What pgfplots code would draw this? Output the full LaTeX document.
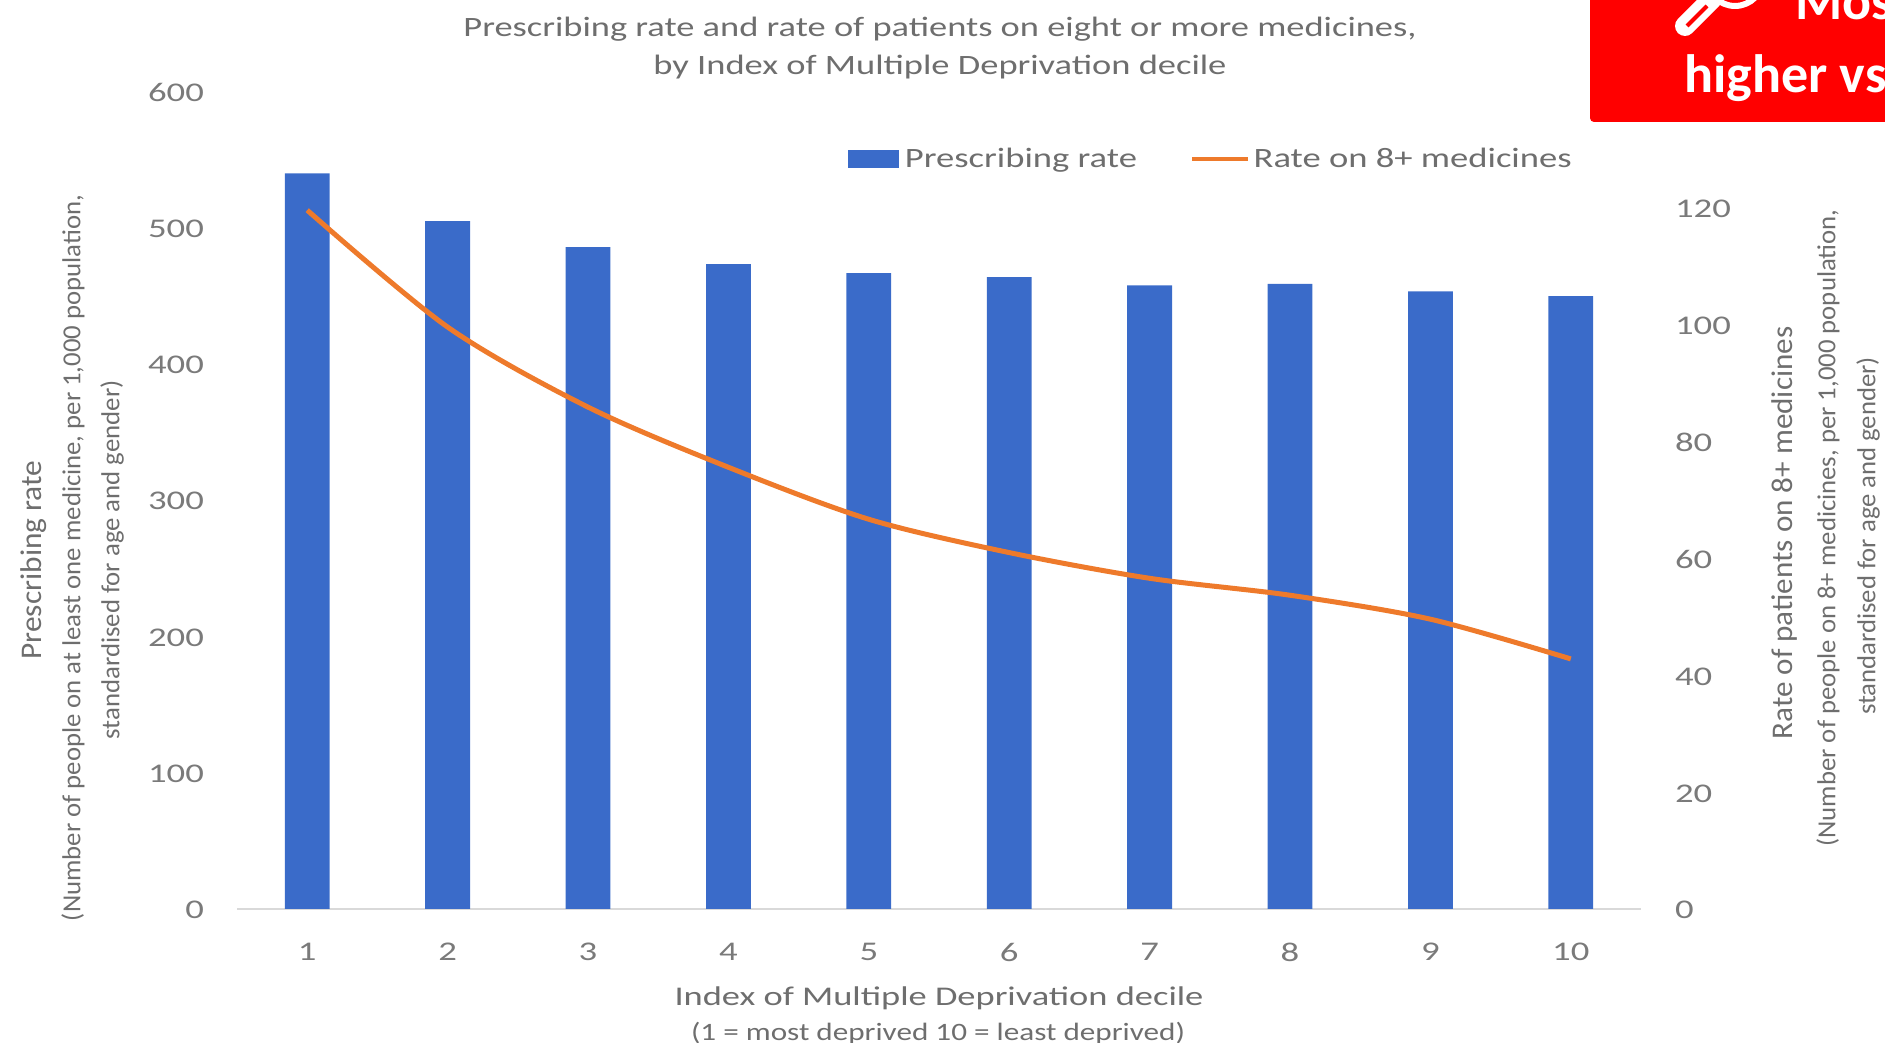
\documentclass[border=0pt]{standalone}
\usepackage{graphicx}
\usepackage{fontspec}
\setmainfont{Carlito}
\usepackage{pgfplots}
\pgfplotsset{compat=1.18}
\definecolor{barblue}{HTML}{3A6BC9}
\definecolor{lineorange}{HTML}{EE7A2B}
\definecolor{labelgrey}{HTML}{6E6E6E}
\definecolor{tickgrey}{HTML}{7A7A7A}
% one drawing unit is half a point: text is set to a given width at its natural height
\newcommand{\fitw}[3]{\resizebox{\dimexpr #1pt/2\relax}{\height}{\fontsize{#2}{#2}\selectfont #3}}
\newcommand{\wide}[1]{\scalebox{1.36}[1]{#1}}
\begin{document}
\begin{tikzpicture}[x=0.5pt,y=0.5pt]
\path[use as bounding box,clip] (0,0) rectangle (1885,1043);

% prescribing rate bars, left scale
\begin{axis}[
  at={(118.5pt,67pt)},anchor=south west,
  scale only axis,width=702pt,height=409pt,
  xmin=0.5,xmax=10.5,ymin=0,ymax=600,
  axis y line*=left,axis x line*=bottom,
  y axis line style={draw=none},
  x axis line style={-,draw=black!15,line width=0.7pt},
  xtick={1,...,10},ytick={0,100,...,600},
  major tick length=0pt,
  /pgf/number format/assume math mode=true,
  xticklabel={\wide{\pgfmathprintnumber{\tick}}},
  yticklabel={\wide{\pgfmathprintnumber{\tick}}},
  tick label style={font=\fontsize{13.5}{13.5}\selectfont,text=tickgrey},
  xticklabel style={yshift=-13.4pt},
  yticklabel style={xshift=-13pt,yshift=-0.6pt},
  ybar,bar width=22.4pt,
]
\addplot[fill=barblue,draw=none] coordinates {
  (1,539.5) (2,504.5) (3,485.5) (4,473) (5,466.5)
  (6,463.5) (7,457.5) (8,458.5) (9,453) (10,449.5)};
\end{axis}

% patients on eight or more medicines, right scale
\begin{axis}[
  at={(118.5pt,67pt)},anchor=south west,
  scale only axis,width=702pt,height=409pt,
  xmin=0.5,xmax=10.5,ymin=0,ymax=140,
  axis y line*=right,axis x line=none,
  y axis line style={draw=none},
  ytick={0,20,...,120},
  major tick length=0pt,
  /pgf/number format/assume math mode=true,
  yticklabel={\wide{\pgfmathprintnumber{\tick}}},
  tick label style={font=\fontsize{13.5}{13.5}\selectfont,text=tickgrey},
  yticklabel style={xshift=13.5pt,yshift=-0.6pt},
  legend style={at={(0.435,0.917)},anchor=west,draw=none,fill=none,
    legend columns=2,inner sep=0pt,
    nodes={inner sep=0pt,text=labelgrey},
    /tikz/every even column/.append style={column sep=26.6pt}},
  legend cell align=left,
]
\addlegendimage{legend image code/.code={
  \fill[barblue] (0pt,-4.2pt) rectangle (25pt,4.2pt);
  \path (28pt,0pt);}}
\addlegendentry{\fitw{232}{14pt}{Prescribing rate}}
\addplot[lineorange,line width=2.5pt,smooth,tension=0.5,
  legend image code/.code={
    \draw[lineorange,line width=2pt] (0pt,0pt) -- (28pt,0pt);
    \path (29.5pt,0pt);}] coordinates {
  (1,119.6) (2,99.6) (3,85.9) (4,75.6) (5,66.7)
  (6,61) (7,56.6) (8,53.7) (9,49.6) (10,42.8)};
\addlegendentry{\fitw{318}{14pt}{Rate on 8+ medicines}}
\end{axis}

% page furniture, placed from the top-left corner
\begin{scope}[y=-0.5pt,yshift=521.5pt]
\begin{scope}[every node/.style={inner sep=0pt,text=labelgrey}]
\node at (940,29.5) {\fitw{953}{14pt}{Prescribing rate and rate of patients on eight or more medicines,}};
\node at (940,67.5) {\fitw{573}{14pt}{by Index of Multiple Deprivation decile}};
\node at (939,998.5) {\fitw{529}{13.5pt}{Index of Multiple Deprivation decile}};
\node at (938,1033) {\fitw{494}{12.5pt}{(1 = most deprived 10 = least deprived)}};
\node[rotate=90] at (34,560) {\fitw{199}{15pt}{Prescribing rate}};
\node[rotate=90] at (73,558) {\fitw{726}{13pt}{(Number of people on at least one medicine, per 1,000 population,}};
\node[rotate=90] at (112,560) {\fitw{359}{13pt}{standardised for age and gender)}};
\node[rotate=90] at (1784,533) {\fitw{413}{15pt}{Rate of patients on 8+ medicines}};
\node[rotate=90] at (1828,528) {\fitw{637}{13pt}{(Number of people on 8+ medicines, per 1,000 population,}};
\node[rotate=90] at (1868,536) {\fitw{358}{13pt}{standardised for age and gender)}};
\end{scope}

% red callout running off the page corner
\fill[red,rounded corners=2pt] (1590,-20) rectangle (1920,122);
\draw[white,line width=3pt] (1735,-22) circle[radius=28];
\draw[white,line width=10pt,line cap=round] (1685,26) -- (1712,-1);
\draw[red,line width=2pt] (1687,26) -- (1707,6);
\node[anchor=base west,inner sep=0pt,text=white] at (1795,20) {\fontsize{27pt}{27pt}\selectfont\bfseries Mos};
\node[anchor=base west,inner sep=0pt,text=white] at (1684,93) {\fontsize{27pt}{27pt}\selectfont\bfseries higher vs};
\end{scope}
\end{tikzpicture}
\end{document}
